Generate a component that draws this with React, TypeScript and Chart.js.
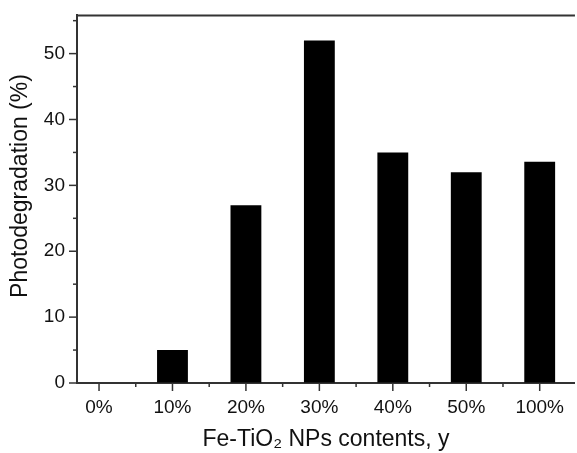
import React, { useEffect, useRef } from "react";
import { Chart, registerables } from "chart.js";

Chart.register(...registerables);

const categories = ["0%", "10%", "20%", "30%", "40%", "50%", "100%"];
const photodegradation = [0, 5, 27, 52, 35, 32, 33.6];
const yTicks = [0, 10, 20, 30, 40, 50];
const yMinorTicks = [5, 15, 25, 35, 45, 55];
const xTitle = "Fe-TiO\u2082 NPs contents, y";
const yTitle = "Photodegradation (%)";

const AXIS_COLOR = "#333333";
const TEXT_COLOR = "#111111";
const FONT = "'Liberation Sans', Arial, Helvetica, sans-serif";

const frameTicksAndTitle = {
  id: "frameTicksAndTitle",
  afterDraw(chart: any) {
    const { ctx, chartArea, scales } = chart;
    const x = scales.x;
    const y = scales.y;
    ctx.save();
    ctx.strokeStyle = AXIS_COLOR;
    ctx.lineWidth = 2;
    // top frame line
    ctx.beginPath();
    ctx.moveTo(chartArea.left - 1, chartArea.top);
    ctx.lineTo(chartArea.right, chartArea.top);
    ctx.stroke();
    ctx.lineWidth = 1.5;
    // y ticks (major + minor)
    yTicks.forEach((v) => {
      const py = y.getPixelForValue(v);
      ctx.beginPath();
      ctx.moveTo(chartArea.left - 8, py);
      ctx.lineTo(chartArea.left, py);
      ctx.stroke();
    });
    yMinorTicks.forEach((v) => {
      const py = y.getPixelForValue(v);
      if (py < chartArea.top - 1) return;
      ctx.beginPath();
      ctx.moveTo(chartArea.left - 4, py);
      ctx.lineTo(chartArea.left, py);
      ctx.stroke();
    });
    // x ticks (major at categories, minor between)
    for (let i = 0; i < categories.length; i++) {
      const px = x.getPixelForValue(i);
      ctx.beginPath();
      ctx.moveTo(px, chartArea.bottom);
      ctx.lineTo(px, chartArea.bottom + 8);
      ctx.stroke();
      const pm = x.getPixelForValue(i + 0.5);
      if (pm > chartArea.right) continue;
      ctx.beginPath();
      ctx.moveTo(pm, chartArea.bottom);
      ctx.lineTo(pm, chartArea.bottom + 4);
      ctx.stroke();
    }
    // y axis title
    ctx.fillStyle = TEXT_COLOR;
    ctx.font = `23px ${FONT}`;
    ctx.textAlign = "center";
    ctx.textBaseline = "middle";
    ctx.translate(21, 186);
    ctx.rotate(-Math.PI / 2);
    ctx.fillText(yTitle, 0, 0);
    ctx.restore();
  },
};

export default function App() {
  const canvasRef = useRef<HTMLCanvasElement | null>(null);

  useEffect(() => {
    if (!canvasRef.current) return;
    const chart = new Chart(canvasRef.current, {
      type: "bar",
      data: {
        datasets: [
          {
            label: yTitle,
            data: categories.map((_, i) => ({ x: i, y: photodegradation[i] })),
            backgroundColor: "#000000",
            borderWidth: 0,
            categoryPercentage: 1,
            barPercentage: 0.42,
          },
        ],
      },
      options: {
        animation: false,
        responsive: false,
        maintainAspectRatio: false,
        layout: { padding: { top: 14, right: 0, left: 0, bottom: 0 } },
        plugins: {
          legend: { display: false },
          tooltip: { enabled: false },
        },
        scales: {
          x: {
            type: "linear",
            offset: false,
            min: -0.3,
            max: 6.48,
            afterFit: (scale: any) => {
              scale.height = 70;
            },
            border: { display: true, color: AXIS_COLOR, width: 2 },
            grid: { display: false, drawTicks: false, offset: false },
            ticks: {
              stepSize: 1,
              includeBounds: false,
              autoSkip: false,
              maxRotation: 0,
              padding: 13,
              color: TEXT_COLOR,
              font: { family: FONT, size: 19 },
              callback: (v: any) => {
                const i = Math.round(Number(v));
                return Math.abs(Number(v) - i) < 1e-6 && categories[i] !== undefined
                  ? categories[i]
                  : "";
              },
            },
            title: {
              display: true,
              text: xTitle,
              color: TEXT_COLOR,
              font: { family: FONT, size: 23 },
              padding: { top: 0, bottom: 0 },
            },
          },
          y: {
            type: "linear",
            min: 0,
            max: 55.8,
            afterFit: (scale: any) => {
              scale.width = 77;
            },
            border: { display: true, color: AXIS_COLOR, width: 2 },
            grid: {
              display: true,
              drawOnChartArea: false,
              drawTicks: true,
              tickLength: 8,
              color: "rgba(0,0,0,0)",
            },
            ticks: {
              stepSize: 10,
              includeBounds: false,
              padding: 4,
              color: TEXT_COLOR,
              font: { family: FONT, size: 19 },
              callback: (v: any) => (yTicks.includes(Number(v)) ? String(v) : ""),
            },
            title: { display: false },
          },
        },
      },
      plugins: [frameTicksAndTitle],
    });
    return () => chart.destroy();
  }, []);

  return (
    <div style={{ position: "fixed", left: 0, top: 0, width: 577, height: 453, background: "#ffffff" }}>
      <canvas ref={canvasRef} width={577} height={453} style={{ width: 577, height: 453 }} />
    </div>
  );
}
